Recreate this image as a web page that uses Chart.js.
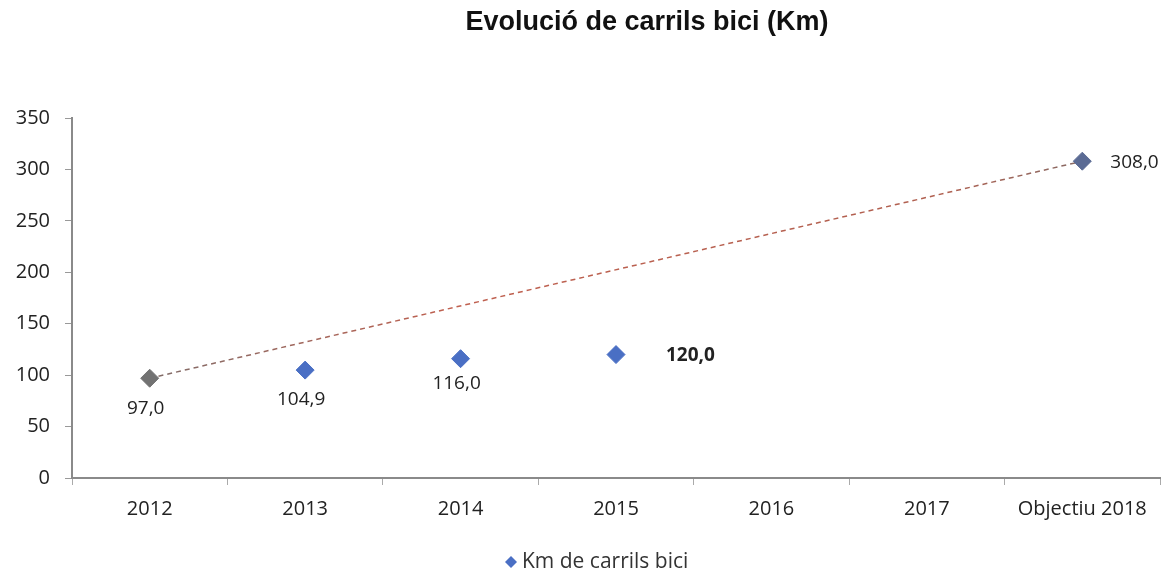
<!DOCTYPE html>
<html>
<head>
<meta charset="utf-8">
<script src="https://cdn.jsdelivr.net/npm/chart.js@4"></script>
<style>
  html, body { margin: 0; padding: 0; background: #fff; }
  #wrap { width: 1170px; height: 577px; position: relative; }
</style>
</head>
<body>
<div id="wrap"><canvas id="bikeChart"></canvas></div>
<script>
// data
const years = ['2012', '2013', '2014', '2015', '2016', '2017', 'Objectiu 2018'];
const kmValues = [97.0, 104.9, 116.0, 120.0, null, null, 308.0];
const trendValues = [97.0, null, null, null, null, null, 308.0];
const yTicks = [0, 50, 100, 150, 200, 250, 300, 350];
const chartTitle = 'Evolució de carrils bici (Km)';
const seriesName = 'Km de carrils bici';

// marker colours per point
const pointColors = ['#727272', '#4a6fc4', '#4a6fc4', '#4a6fc4', '#4a6fc4', '#4a6fc4', '#5b6b94'];

// where each value label goes (side, gap)
const labelSide = ['below', 'below', 'below', 'right', null, null, 'right'];
const labelGap = [21, 20, 15, 50, 0, 0, 28];
const labelBold = [false, false, false, true, false, false, false];

const fmt = v => v.toFixed(1).replace('.', ',');
const tickFont = '"Open Sans", sans-serif';

// value labels, off-centre title and the legend line
const extras = {
  id: 'extras',
  afterDatasetsDraw(chart) {
    const meta = chart.getDatasetMeta(0);
    const c = chart.ctx;
    c.save();
    c.fillStyle = '#222';
    meta.data.forEach((pt, i) => {
      const v = kmValues[i];
      if (v == null || !labelSide[i]) return;
      c.font = (labelBold[i] ? 'bold ' : '') + '19px ' + tickFont;
      if (labelSide[i] === 'below') {
        c.textAlign = 'center';
        c.textBaseline = 'top';
        c.fillText(fmt(v), pt.x - 4, pt.y + labelGap[i]);
      } else {
        c.textAlign = 'left';
        c.textBaseline = 'middle';
        c.fillText(fmt(v), pt.x + labelGap[i], pt.y + 1);
      }
    });
    c.restore();
  },
  afterDraw(chart) {
    const c = chart.ctx;
    c.save();
    c.fillStyle = '#111';
    c.font = 'bold 27px "Liberation Sans", Arial, sans-serif';
    c.textAlign = 'center';
    c.textBaseline = 'middle';
    c.fillText(chartTitle, 647, 23);

    // legend: diamond + name
    const lx = 511, ly = 562;
    c.fillStyle = '#4a6fc4';
    c.beginPath();
    c.moveTo(lx, ly - 6);
    c.lineTo(lx + 6, ly);
    c.lineTo(lx, ly + 6);
    c.lineTo(lx - 6, ly);
    c.closePath();
    c.fill();
    c.fillStyle = '#333';
    c.font = '21px ' + tickFont;
    c.textAlign = 'left';
    c.fillText(seriesName, lx + 11, ly);
    c.restore();
  }
};

const ctx = document.getElementById('bikeChart').getContext('2d');

const chart = new Chart(ctx, {
  type: 'line',
  data: {
    labels: years,
    datasets: [{
      label: seriesName,
      data: kmValues,
      showLine: false,
      pointStyle: 'rectRot',
      pointRadius: 9,
      pointHoverRadius: 9,
      pointBackgroundColor: pointColors,
      pointBorderColor: pointColors,
      backgroundColor: '#4a6fc4',
      borderColor: '#4a6fc4',
      order: 0
    }, {
      label: 'trend',
      data: trendValues,
      spanGaps: true,
      pointRadius: 0,
      borderWidth: 1.5,
      borderDash: [5, 4],
      borderColor: (context) => {
        const area = context.chart.chartArea;
        if (!area) return '#b0705f';
        const g = context.chart.ctx.createLinearGradient(area.left, 0, area.right, 0);
        g.addColorStop(0, '#707070');
        g.addColorStop(0.35, '#c0604f');
        g.addColorStop(0.8, '#b06050');
        g.addColorStop(1, '#707070');
        return g;
      },
      order: 1
    }]
  },
  options: {
    responsive: true,
    maintainAspectRatio: false,
    animation: false,
    layout: {
      padding: { left: 0, right: 5, top: 118, bottom: 31 }
    },
    plugins: {
      title: { display: false },
      legend: { display: false },
      tooltip: { enabled: false }
    },
    scales: {
      x: {
        offset: true,
        afterFit: axis => { axis.height = 68; },
        grid: {
          offset: true,
          drawOnChartArea: false,
          color: '#aaa',
          tickLength: 7
        },
        border: { color: '#8a8a8a', width: 2 },
        ticks: {
          color: '#222',
          padding: 12,
          maxRotation: 0,
          font: { size: 20, family: tickFont }
        }
      },
      y: {
        min: 0,
        max: 350,
        afterBuildTicks: axis => { axis.ticks = yTicks.map(v => ({ value: v })); },
        afterFit: axis => { axis.width = 72; },
        grid: {
          drawOnChartArea: false,
          color: '#999',
          tickLength: 7
        },
        border: { color: '#8a8a8a', width: 2 },
        ticks: {
          color: '#222',
          padding: 15,
          font: { size: 20, family: tickFont }
        }
      }
    }
  },
  plugins: [extras]
});
</script>
</body>
</html>
